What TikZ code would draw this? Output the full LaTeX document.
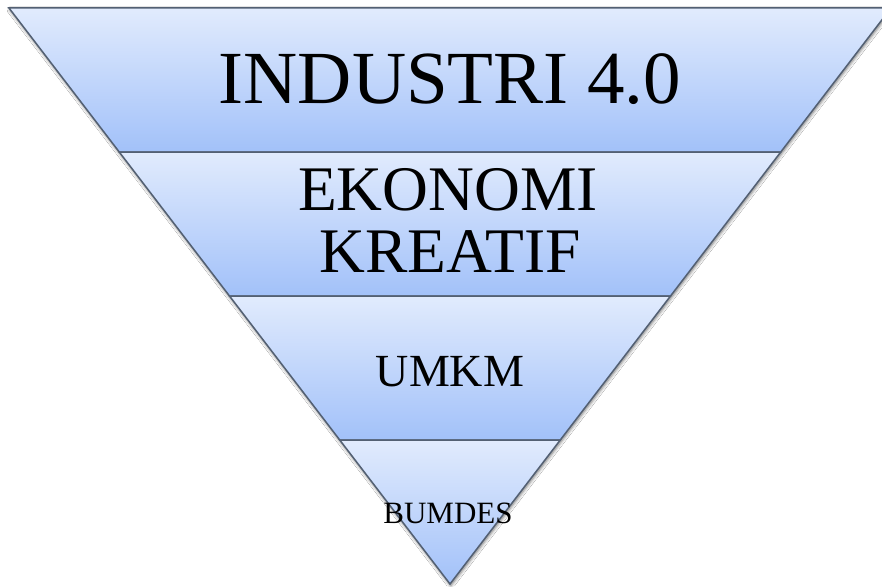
\documentclass[tikz,border=0pt]{standalone}
\usepackage{fontspec}
\setmainfont{Liberation Serif}
\usetikzlibrary{shadows.blur}
\definecolor{bandtop}{HTML}{E1EBFD}
\definecolor{bandbot}{HTML}{A2C1F9}
\definecolor{bandedge}{HTML}{536073}
\tikzset{
  band/.style={top color=bandtop, bottom color=bandbot, draw=bandedge, line width=1.5pt, line join=miter},
  label/.style={anchor=base, text=black, inner sep=0pt},
}
\begin{document}
\begin{tikzpicture}[x=1pt, y=-1pt]
  \useasboundingbox (0,0) rectangle (882,586);
  \clip (0,0) rectangle (882,586);
  \fill[white] (0,0) rectangle (882,586);
  % soft shadow behind the whole funnel
  \path[fill=white, blur shadow={shadow xshift=0.8pt, shadow yshift=-1.8pt, shadow blur radius=3pt, shadow opacity=55}]
    (9,8) -- (891,8) -- (450,584) -- cycle;
  % four bands, top to bottom
  \path[band] (9,8) -- (891,8) -- (780.75,152) -- (119.25,152) -- cycle;
  \path[band] (119.25,152) -- (780.75,152) -- (670.5,296) -- (229.5,296) -- cycle;
  \path[band] (229.5,296) -- (670.5,296) -- (560.25,440) -- (339.75,440) -- cycle;
  \path[band] (339.75,440) -- (560.25,440) -- (450,584) -- cycle;
  % labels
  \node[label, font=\fontsize{75}{75}\selectfont] (industri) at (450,103) {INDUSTRI 4.0};
  \node[label, font=\fontsize{63.5}{63.5}\selectfont] (ekonomi) at (448,210) {EKONOMI};
  \node[label, font=\fontsize{63.5}{63.5}\selectfont] (kreatif) at (450,272) {KREATIF};
  \node[label, font=\fontsize{46}{46}\selectfont] (umkm) at (450,386) {UMKM};
  \node[label, font=\fontsize{31}{31}\selectfont] (bumdes) at (448,523) {BUMDES};
\end{tikzpicture}
\end{document}
